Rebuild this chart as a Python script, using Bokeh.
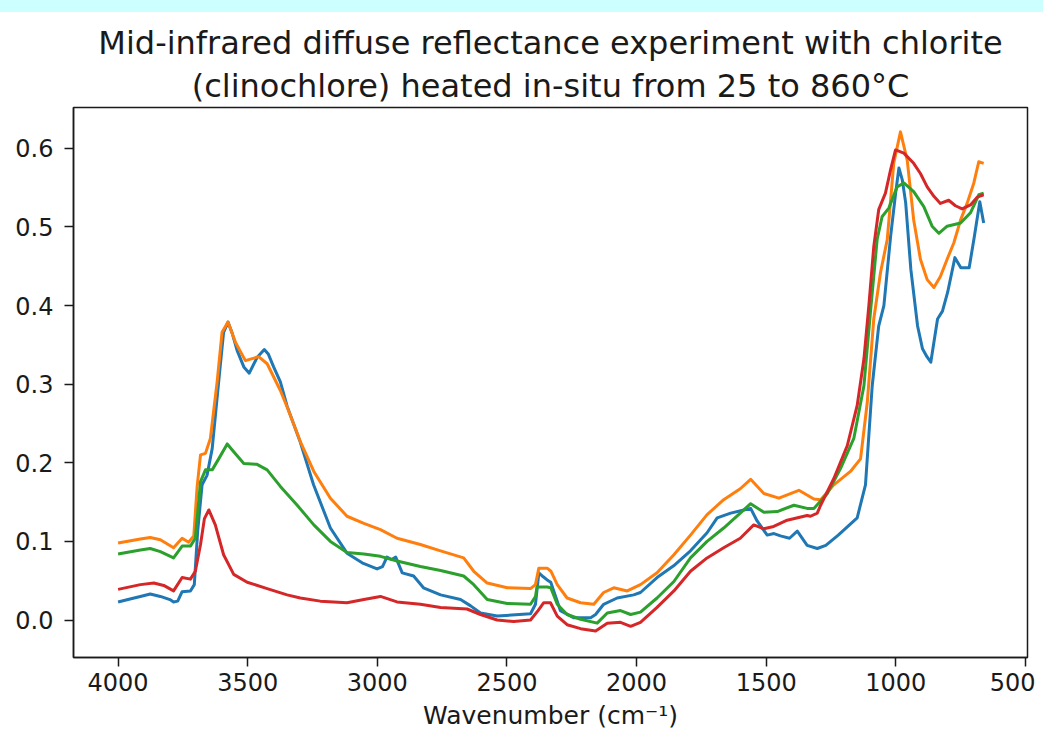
from bokeh.plotting import figure
from bokeh.models import Range1d, Title, FixedTicker, PrintfTickFormatter, InlineStyleSheet
from bokeh.embed import file_html
from bokeh.resources import INLINE

# ---------------- data ----------------
title_line1 = "Mid-infrared diffuse reflectance experiment with chlorite"
title_line2 = "(clinochlore) heated in-situ from 25 to 860°C"
x_label = "Wavenumber (cm⁻¹)"

x_ticks = [4000, 3500, 3000, 2500, 2000, 1500, 1000, 500]
y_ticks = [0.0, 0.1, 0.2, 0.3, 0.4, 0.5, 0.6]

# blue series
wn_blue = [4000, 3950, 3914, 3876, 3837, 3800, 3786, 3770, 3753, 3721, 3706, 3693, 3676,
           3657, 3637, 3612, 3593, 3576, 3560, 3541, 3515, 3494, 3464, 3436, 3420, 3400,
           3374, 3348, 3297, 3246, 3181, 3117, 3054, 3001, 2980, 2963, 2945, 2929, 2904,
           2860, 2822, 2756, 2679, 2640, 2602, 2538, 2409, 2390, 2377, 2360, 2345, 2331,
           2294, 2243, 2177, 2158, 2127, 2075, 2011, 1985, 1921, 1857, 1792, 1728, 1689,
           1637, 1586, 1560, 1535, 1496, 1470, 1445, 1410, 1380, 1342, 1303, 1270, 1222,
           1149, 1117, 1091, 1066, 1046, 1020, 1000, 988, 975, 962, 942, 916, 897, 880,
           865, 839, 820, 800, 772, 749, 717, 697, 676, 661]
ab_blue = [0.023, 0.027, 0.030, 0.033, 0.030, 0.026, 0.023, 0.024, 0.036, 0.037, 0.045,
           0.113, 0.172, 0.184, 0.218, 0.303, 0.366, 0.379, 0.365, 0.343, 0.322, 0.314,
           0.334, 0.344, 0.338, 0.322, 0.303, 0.272, 0.226, 0.172, 0.117, 0.085, 0.072,
           0.065, 0.068, 0.080, 0.077, 0.080, 0.060, 0.056, 0.041, 0.032, 0.026, 0.018,
           0.009, 0.005, 0.008, 0.020, 0.060, 0.055, 0.051, 0.048, 0.012, 0.003, 0.003,
           0.007, 0.020, 0.028, 0.032, 0.035, 0.054, 0.069, 0.088, 0.111, 0.130, 0.136,
           0.140, 0.142, 0.126, 0.108, 0.110, 0.107, 0.104, 0.113, 0.095, 0.091, 0.095,
           0.108, 0.130, 0.172, 0.298, 0.374, 0.400, 0.488, 0.545, 0.575, 0.560, 0.531,
           0.446, 0.374, 0.345, 0.335, 0.328, 0.383, 0.393, 0.417, 0.461, 0.448, 0.448,
           0.488, 0.532, 0.505]

# orange series
wn_orange = [4000, 3914, 3876, 3837, 3786, 3753, 3728, 3708, 3695, 3682, 3663, 3644, 3618,
             3599, 3576, 3547, 3509, 3458, 3425, 3374, 3348, 3297, 3245, 3181, 3117, 3052,
             2988, 2924, 2834, 2756, 2667, 2628, 2576, 2499, 2409, 2390, 2377, 2345, 2330,
             2306, 2268, 2216, 2165, 2127, 2088, 2036, 1985, 1921, 1856, 1792, 1728, 1664,
             1600, 1560, 1509, 1451, 1374, 1316, 1290, 1239, 1175, 1136, 1110, 1085, 1059,
             1033, 1008, 982, 956, 931, 905, 879, 853, 828, 802, 776, 750, 725, 699, 680, 661]
ab_orange = [0.098, 0.103, 0.105, 0.102, 0.092, 0.104, 0.099, 0.107, 0.170, 0.210, 0.212,
             0.231, 0.303, 0.366, 0.379, 0.353, 0.330, 0.335, 0.326, 0.292, 0.271, 0.227,
             0.189, 0.155, 0.132, 0.123, 0.115, 0.104, 0.096, 0.088, 0.079, 0.062, 0.047,
             0.041, 0.040, 0.045, 0.066, 0.066, 0.062, 0.045, 0.028, 0.022, 0.020, 0.035,
             0.041, 0.037, 0.045, 0.060, 0.083, 0.108, 0.134, 0.153, 0.167, 0.179, 0.161,
             0.155, 0.165, 0.154, 0.153, 0.172, 0.189, 0.205, 0.277, 0.383, 0.442, 0.484,
             0.581, 0.621, 0.585, 0.509, 0.459, 0.433, 0.423, 0.437, 0.459, 0.480, 0.509,
             0.530, 0.556, 0.583, 0.581]

# green series
wn_green = [4000, 3914, 3876, 3837, 3786, 3753, 3721, 3702, 3682, 3663, 3637, 3612, 3579,
            3554, 3515, 3464, 3425, 3374, 3309, 3245, 3181, 3117, 3052, 2988, 2924, 2834,
            2756, 2667, 2628, 2576, 2499, 2409, 2390, 2384, 2345, 2331, 2306, 2268, 2216,
            2152, 2113, 2062, 2023, 1985, 1921, 1856, 1792, 1728, 1664, 1600, 1560, 1509,
            1457, 1393, 1342, 1316, 1264, 1213, 1162, 1123, 1098, 1072, 1053, 1027, 995,
            969, 931, 892, 860, 834, 802, 750, 712, 680, 661]
ab_green = [0.084, 0.089, 0.091, 0.087, 0.079, 0.094, 0.094, 0.104, 0.176, 0.191, 0.191,
            0.205, 0.224, 0.214, 0.199, 0.198, 0.191, 0.170, 0.146, 0.121, 0.100, 0.086,
            0.084, 0.081, 0.075, 0.068, 0.063, 0.056, 0.045, 0.026, 0.021, 0.020, 0.030,
            0.042, 0.042, 0.041, 0.020, 0.007, 0.001, -0.004, 0.009, 0.012, 0.007, 0.010,
            0.028, 0.049, 0.079, 0.100, 0.117, 0.136, 0.148, 0.137, 0.138, 0.146, 0.142,
            0.142, 0.161, 0.193, 0.231, 0.298, 0.391, 0.484, 0.513, 0.524, 0.551, 0.556,
            0.545, 0.526, 0.501, 0.492, 0.501, 0.505, 0.518, 0.541, 0.543]

# red series
wn_red = [4000, 3914, 3862, 3824, 3786, 3753, 3721, 3702, 3682, 3667, 3650, 3625, 3593,
          3554, 3502, 3425, 3348, 3297, 3220, 3117, 3052, 2988, 2924, 2834, 2756, 2654,
          2602, 2538, 2474, 2409, 2380, 2358, 2332, 2306, 2268, 2216, 2158, 2113, 2062,
          2023, 1985, 1921, 1856, 1792, 1728, 1664, 1600, 1548, 1509, 1471, 1419, 1342,
          1329, 1303, 1290, 1239, 1187, 1149, 1123, 1104, 1085, 1066, 1040, 1020, 1001,
          969, 931, 905, 879, 853, 828, 796, 770, 744, 712, 686, 661]
ab_red = [0.039, 0.045, 0.047, 0.044, 0.037, 0.054, 0.052, 0.062, 0.096, 0.129, 0.140,
          0.121, 0.083, 0.058, 0.048, 0.040, 0.032, 0.028, 0.024, 0.022, 0.026, 0.030,
          0.023, 0.020, 0.016, 0.014, 0.007, 0.000, -0.002, 0.000, 0.012, 0.022, 0.022,
          0.005, -0.006, -0.011, -0.014, -0.004, -0.003, -0.008, -0.003, 0.016, 0.037,
          0.062, 0.079, 0.092, 0.104, 0.121, 0.116, 0.119, 0.127, 0.133, 0.132, 0.136,
          0.146, 0.180, 0.222, 0.273, 0.332, 0.400, 0.475, 0.522, 0.543, 0.573, 0.598,
          0.594, 0.581, 0.568, 0.551, 0.539, 0.530, 0.534, 0.527, 0.523, 0.528, 0.538,
          0.541]

series = [
    (wn_blue, ab_blue, "#1f77b4"),
    (wn_orange, ab_orange, "#ff7f0e"),
    (wn_green, ab_green, "#2ca02c"),
    (wn_red, ab_red, "#d62728"),
]

# ---------------- figure ----------------
FONT = "DejaVu Sans"
TXT = "#1a1a1a"

p = figure(width=1035, height=732,
           x_range=Range1d(4172, 492), y_range=Range1d(-0.0477, 0.652),
           output_backend="svg", toolbar_location=None, title=None,
           min_border_left=73, min_border_right=8, min_border_top=107, min_border_bottom=72,
           background_fill_color="white", border_fill_color="white")

p.add_layout(Title(text=title_line2, align="center", text_font=FONT, text_font_size="32px",
                   text_font_style="normal", text_color=TXT, standoff=6), "above")
p.add_layout(Title(text=title_line1, align="center", text_font=FONT, text_font_size="32px",
                   text_font_style="normal", text_color=TXT, standoff=0), "above")

p.grid.visible = False
p.outline_line_color = TXT
p.outline_line_width = 1.5

for wn, ab, col in series:
    p.line(wn, ab, line_color=col, line_width=3, line_join="round")

p.xaxis.ticker = FixedTicker(ticks=x_ticks)
p.yaxis.ticker = FixedTicker(ticks=y_ticks)
p.yaxis.formatter = PrintfTickFormatter(format="%.1f")
p.xaxis.axis_label = x_label

for ax in (p.xaxis[0], p.yaxis[0]):
    ax.axis_line_color = TXT
    ax.axis_line_width = 1.5
    ax.major_tick_line_color = TXT
    ax.major_tick_line_width = 1.5
    ax.major_tick_out = 9
    ax.major_tick_in = 0
    ax.minor_tick_out = 0
    ax.minor_tick_in = 0
    ax.major_label_text_font = FONT
    ax.major_label_text_font_size = "24px"
    ax.major_label_text_color = TXT
    ax.axis_label_text_font = FONT
    ax.axis_label_text_font_size = "25px"
    ax.axis_label_text_font_style = "normal"
    ax.axis_label_text_color = TXT
    ax.axis_label_standoff = 7

p.xaxis[0].major_label_standoff = 6
p.yaxis[0].major_label_standoff = 11

p.stylesheets = [InlineStyleSheet(css=":host::before { content: ''; position: fixed; top: 0; left: 0; "
                                      "width: 100vw; height: 12px; background: #ccffff; z-index: 100; }")]

open("out.html", "w").write(file_html(p, INLINE))
